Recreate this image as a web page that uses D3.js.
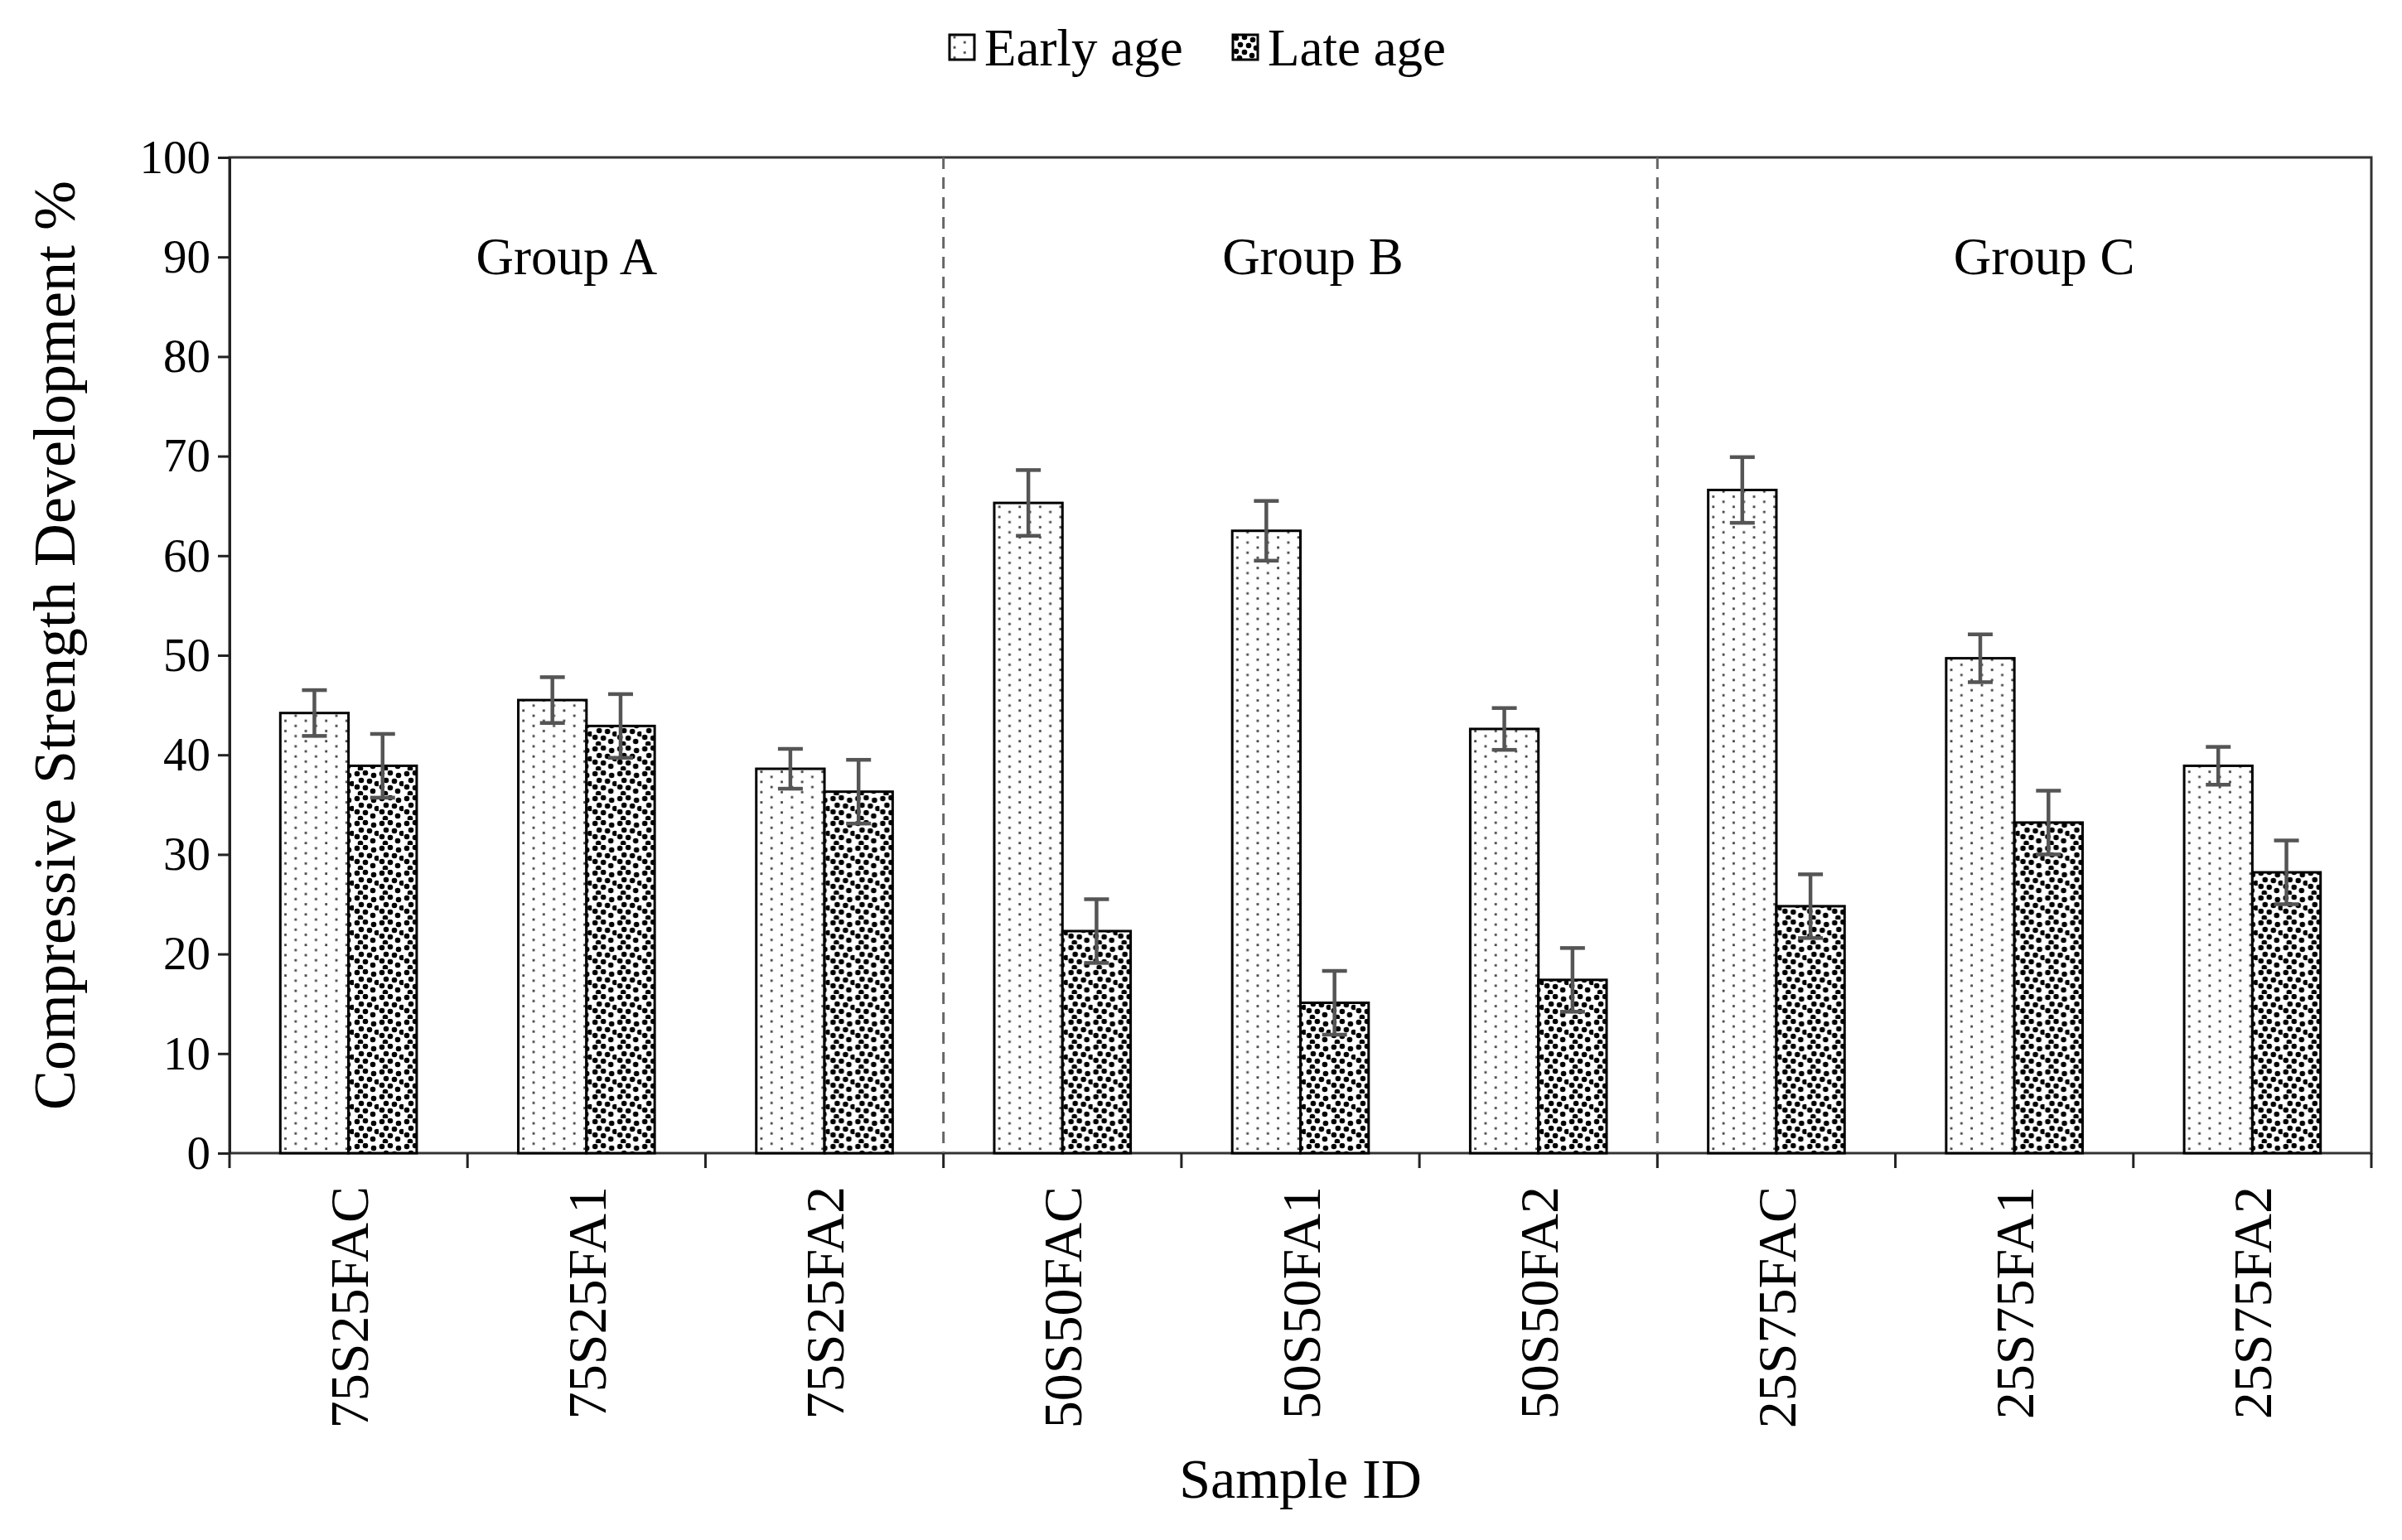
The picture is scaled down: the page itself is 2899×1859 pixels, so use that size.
<!DOCTYPE html>
<html lang="en">
<head>
    <meta charset="UTF-8">
    <title>Compressive Strength Development</title>
    <script src="https://cdnjs.cloudflare.com/ajax/libs/d3/7.8.5/d3.min.js"></script>
    <style>
        body { margin: 0; background: #fff; }
        text { font-family: "Liberation Serif", "Times New Roman", serif; fill: #000; }
    </style>
</head>
<body>
    <div id="chart"></div>

    <script>
        // data
        const samples = ["75S25FAC", "75S25FA1", "75S25FA2", "50S50FAC", "50S50FA1", "50S50FA2", "25S75FAC", "25S75FA1", "25S75FA2"];
        const earlyAge = [44.2, 45.5, 38.6, 65.3, 62.5, 42.6, 66.6, 49.7, 38.9];
        const earlyErr = [2.3, 2.3, 2.0, 3.3, 3.0, 2.1, 3.3, 2.4, 1.9];
        const lateAge = [38.9, 42.9, 36.3, 22.3, 15.1, 17.4, 24.8, 33.2, 28.2];
        const lateErr = [3.2, 3.2, 3.2, 3.2, 3.2, 3.2, 3.2, 3.2, 3.2];
        const seriesNames = ["Early age", "Late age"];
        const groups = ["Group A", "Group B", "Group C"];
        const yTicks = [0, 10, 20, 30, 40, 50, 60, 70, 80, 90, 100];

        const width = 2899;
        const height = 1859;
        const margin = { top: 190, right: 37, bottom: 467, left: 277 };

        const svg = d3.select("#chart")
            .append("svg")
            .attr("width", width)
            .attr("height", height);

        // fill patterns
        const defs = svg.append("defs");
        const pEarly = defs.append("pattern")
            .attr("id", "pat-early")
            .attr("patternUnits", "userSpaceOnUse")
            .attr("width", 24.6).attr("height", 12.3);
        pEarly.append("rect").attr("width", 24.6).attr("height", 12.3).attr("fill", "#fff");
        [[6, 3], [18.3, 9.15]].forEach(p => {
            pEarly.append("rect").attr("x", p[0] - 1.4).attr("y", p[1] - 1.4)
                .attr("width", 2.8).attr("height", 2.8).attr("fill", "#444");
        });

        const pLate = defs.append("pattern")
            .attr("id", "pat-late")
            .attr("patternUnits", "userSpaceOnUse")
            .attr("width", 30).attr("height", 30);
        pLate.append("rect").attr("width", 30).attr("height", 30).attr("fill", "#fff");
        [[4, 4], [14, 3], [24, 6], [9, 12], [19, 13], [28, 16], [4, 20], [14, 21], [23, 25], [8, 28]].forEach(p => {
            pLate.append("circle").attr("cx", p[0]).attr("cy", p[1]).attr("r", 3.3).attr("fill", "#000");
        });

        const x = d3.scaleBand()
            .domain(samples)
            .range([margin.left, width - margin.right]);

        const inner = d3.scaleBand()
            .domain(seriesNames)
            .range([0, x.bandwidth()])
            .paddingOuter(0.745);

        const y = d3.scaleLinear()
            .domain([0, 100])
            .range([height - margin.bottom, margin.top]);

        const data = samples.map((s, i) => ({
            sample: s,
            values: [
                { key: "Early age", v: earlyAge[i], e: earlyErr[i] },
                { key: "Late age", v: lateAge[i], e: lateErr[i] }
            ]
        }));

        const fills = { "Early age": "url(#pat-early)", "Late age": "url(#pat-late)" };

        // plot frame
        svg.append("rect")
            .attr("x", margin.left)
            .attr("y", margin.top)
            .attr("width", width - margin.left - margin.right)
            .attr("height", height - margin.top - margin.bottom)
            .attr("fill", "none")
            .attr("stroke", "#333")
            .attr("stroke-width", 3);

        // group separators
        [3, 6].forEach(i => {
            svg.append("line")
                .attr("x1", x(samples[i])).attr("x2", x(samples[i]))
                .attr("y1", margin.top).attr("y2", height - margin.bottom)
                .attr("stroke", "#666")
                .attr("stroke-width", 3)
                .attr("stroke-dasharray", "14,10");
        });

        // group labels
        const groupOffsets = [-24, 15, 36];
        svg.append("g")
            .selectAll("text")
            .data(groups)
            .join("text")
            .attr("x", (d, i) => x(samples[i * 3 + 1]) + x.bandwidth() / 2 + groupOffsets[i])
            .attr("y", y(88.3))
            .attr("text-anchor", "middle")
            .attr("font-size", 63)
            .text(d => d);

        // bars
        const cat = svg.append("g")
            .selectAll("g")
            .data(data)
            .join("g")
            .attr("transform", d => `translate(${x(d.sample)},0)`);

        cat.selectAll("rect")
            .data(d => d.values)
            .join("rect")
            .attr("x", d => inner(d.key))
            .attr("y", d => y(d.v))
            .attr("width", inner.bandwidth())
            .attr("height", d => y(0) - y(d.v))
            .attr("fill", d => fills[d.key])
            .attr("stroke", "#000")
            .attr("stroke-width", 3);

        // error bars
        const err = cat.selectAll("g.err")
            .data(d => d.values)
            .join("g")
            .attr("class", "err")
            .attr("stroke", "#555")
            .attr("stroke-width", 4.5);
        err.append("line")
            .attr("x1", d => inner(d.key) + inner.bandwidth() / 2)
            .attr("x2", d => inner(d.key) + inner.bandwidth() / 2)
            .attr("y1", d => y(d.v + d.e))
            .attr("y2", d => y(d.v - d.e));
        [1, -1].forEach(s => {
            err.append("line")
                .attr("x1", d => inner(d.key) + inner.bandwidth() / 2 - 15)
                .attr("x2", d => inner(d.key) + inner.bandwidth() / 2 + 15)
                .attr("y1", d => y(d.v + s * d.e))
                .attr("y2", d => y(d.v + s * d.e));
        });

        // y axis
        const yAxis = svg.append("g")
            .attr("transform", `translate(${margin.left},0)`)
            .call(d3.axisLeft(y).tickValues(yTicks).tickSize(14).tickPadding(9).tickSizeOuter(0));
        yAxis.selectAll("text").attr("font-size", 57).attr("font-family", "Liberation Serif");
        yAxis.selectAll("line, path").attr("stroke", "#222").attr("stroke-width", 3);

        // x axis: ticks at the category boundaries
        const boundaries = samples.map(s => x(s)).concat([width - margin.right]);
        svg.append("g")
            .selectAll("line")
            .data(boundaries)
            .join("line")
            .attr("x1", d => d).attr("x2", d => d)
            .attr("y1", y(0)).attr("y2", y(0) + 18)
            .attr("stroke", "#222")
            .attr("stroke-width", 3);

        svg.append("g")
            .selectAll("text")
            .data(samples)
            .join("text")
            .attr("transform", d => `translate(${x(d) + x.bandwidth() / 2},${y(0) + 40}) rotate(-90)`)
            .attr("text-anchor", "end")
            .attr("dy", "0.35em")
            .attr("font-size", 66)
            .text(d => d);

        // axis titles
        svg.append("text")
            .attr("transform", `translate(90,${(margin.top + height - margin.bottom) / 2 - 12}) rotate(-90)`)
            .attr("text-anchor", "middle")
            .attr("font-size", 72)
            .text("Compressive Strength Development %");

        svg.append("text")
            .attr("x", (margin.left + width - margin.right) / 2)
            .attr("y", 1808)
            .attr("text-anchor", "middle")
            .attr("font-size", 68)
            .text("Sample ID");

        // legend
        const legend = svg.append("g")
            .selectAll("g")
            .data(seriesNames)
            .join("g")
            .attr("transform", (d, i) => `translate(${[1146, 1488][i]},42)`);
        legend.append("rect")
            .attr("width", 30).attr("height", 30)
            .attr("fill", d => fills[d])
            .attr("stroke", "#000")
            .attr("stroke-width", 3);
        legend.append("text")
            .attr("x", 42)
            .attr("y", 15)
            .attr("dy", "0.35em")
            .attr("font-size", 63)
            .text(d => d);
    </script>
</body>
</html>
